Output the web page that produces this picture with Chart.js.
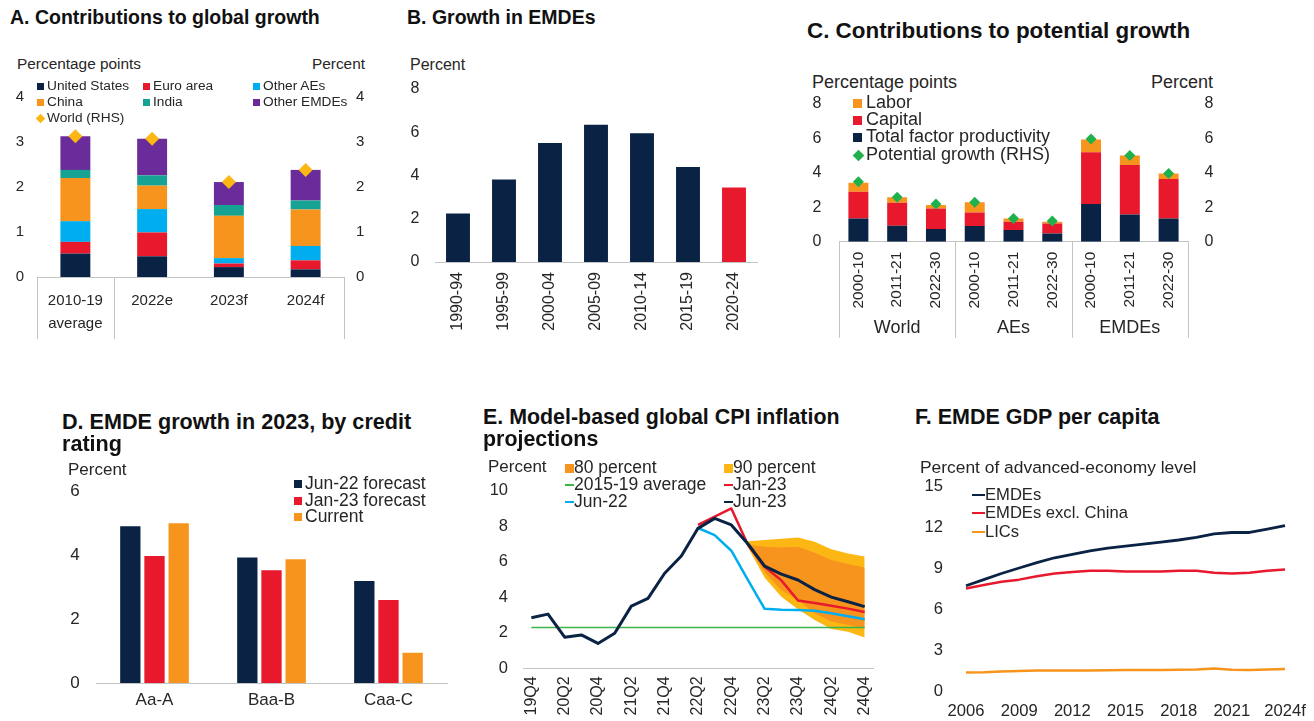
<!DOCTYPE html>
<html>
<head>
<meta charset="utf-8">
<script src="https://cdn.jsdelivr.net/npm/chart.js@4.4.1/dist/chart.umd.min.js"></script>
<style>
body { margin: 0; background: #fff; width: 1314px; height: 721px; position: relative; overflow: hidden;
       font-family: "Liberation Sans", Arial, sans-serif; color: #262626; }
canvas { position: absolute; }
.t { position: absolute; white-space: nowrap; line-height: 1.2; }
</style>
</head>
<body>
<canvas id="chartA" width="380" height="255" style="left:0;top:85px"></canvas>
<canvas id="chartB" width="380" height="255" style="left:395px;top:80px"></canvas>
<canvas id="chartC" width="440" height="250" style="left:800px;top:95px"></canvas>
<canvas id="chartD" width="400" height="241" style="left:55px;top:480px"></canvas>
<canvas id="chartE" width="420" height="241" style="left:470px;top:480px"></canvas>
<canvas id="chartF" width="414" height="246" style="left:900px;top:475px"></canvas>
<script>
// ---- A. Contributions to global growth (percentage points) ----
const aCats = [['2010-19', 'average'], '2022e', '2023f', '2024f'];
const aUS = [0.52, 0.46, 0.22, 0.17];
const aEuro = [0.26, 0.53, 0.08, 0.20];
const aOtherAEs = [0.46, 0.52, 0.12, 0.32];
const aChina = [0.96, 0.52, 0.94, 0.81];
const aIndia = [0.18, 0.23, 0.24, 0.20];
const aOtherEMDEs = [0.75, 0.81, 0.51, 0.68];
const aWorld = [3.13, 3.07, 2.11, 2.38];

// ---- B. Growth in EMDEs ----
const bPeriods = ['1990-94', '1995-99', '2000-04', '2005-09', '2010-14', '2015-19', '2020-24'];
const bGrowth = [2.24, 3.82, 5.50, 6.35, 5.95, 4.39, 3.45];

// ---- C. Contributions to potential growth ----
const cGroups = ['World', 'AEs', 'EMDEs'];
const cPeriods = ['2000-10', '2011-21', '2022-30'];
const cTFP = [1.35, 0.93, 0.73, 0.91, 0.68, 0.48, 2.18, 1.58, 1.35];
const cCapital = [1.55, 1.33, 1.20, 0.79, 0.48, 0.58, 3.00, 2.86, 2.28];
const cLabor = [0.52, 0.31, 0.20, 0.58, 0.19, 0.10, 0.75, 0.55, 0.33];
const cPotential = [3.48, 2.57, 2.18, 2.28, 1.35, 1.20, 5.95, 4.99, 3.96];

// ---- D. EMDE growth in 2023, by credit rating ----
const dRatings = ['Aa-A', 'Baa-B', 'Caa-C'];
const dJun22 = [4.92, 3.94, 3.20];
const dJan23 = [3.98, 3.54, 2.60];
const dCurrent = [5.01, 3.88, 0.95];

// ---- E. Model-based global CPI inflation projections ----
const eQuarters = ['19Q4', '20Q1', '20Q2', '20Q3', '20Q4', '21Q1', '21Q2', '21Q3', '21Q4', '22Q1', '22Q2',
                   '22Q3', '22Q4', '23Q1', '23Q2', '23Q3', '23Q4', '24Q1', '24Q2', '24Q3', '24Q4'];
const eJun23 = [2.85, 3.05, 1.75, 1.88, 1.40, 1.97, 3.50, 3.94, 5.35, 6.32, 7.88, 8.44, 8.07, 7.00, 5.75, 5.30, 4.97, 4.43, 4.01, 3.75, 3.47];
const eJan23 = [null, null, null, null, null, null, null, null, null, null, 8.07, 8.54, 9.00, 6.94, 5.72, 4.95, 3.82, 3.68, 3.52, 3.36, 3.17];
const eJun22 = [null, null, null, null, null, null, null, null, null, null, 7.90, 7.50, 6.62, 4.97, 3.35, 3.29, 3.28, 3.24, 3.10, 2.93, 2.76];
const eAvg = [2.3, 2.3, 2.3, 2.3, 2.3, 2.3, 2.3, 2.3, 2.3, 2.3, 2.3, 2.3, 2.3, 2.3, 2.3, 2.3, 2.3, 2.3, 2.3, 2.3, 2.3];
const e90Low = [null, null, null, null, null, null, null, null, null, null, null, null, null, 6.80, 5.10, 4.03, 3.32, 2.72, 2.21, 2.06, 1.74];
const e80Low = [null, null, null, null, null, null, null, null, null, null, null, null, null, 6.88, 5.40, 4.40, 3.85, 3.10, 2.63, 2.44, 2.25];
const e80High = [null, null, null, null, null, null, null, null, null, null, null, null, null, 6.95, 6.85, 6.80, 6.85, 6.50, 6.10, 5.87, 5.67];
const e90High = [null, null, null, null, null, null, null, null, null, null, null, null, null, 7.15, 7.22, 7.30, 7.37, 7.13, 6.70, 6.47, 6.29];

// ---- F. EMDE GDP per capita (percent of advanced-economy level) ----
const fYears = ['2006', '2007', '2008', '2009', '2010', '2011', '2012', '2013', '2014', '2015',
                '2016', '2017', '2018', '2019', '2020', '2021', '2022', '2023', '2024f'];
const fEMDEs = [7.75, 8.2, 8.65, 9.05, 9.45, 9.8, 10.05, 10.3, 10.5, 10.65, 10.8, 10.95, 11.1, 11.3, 11.55, 11.65, 11.65, 11.9, 12.15];
const fExChina = [7.55, 7.8, 8.05, 8.2, 8.45, 8.65, 8.75, 8.85, 8.85, 8.8, 8.8, 8.8, 8.85, 8.85, 8.7, 8.65, 8.7, 8.85, 8.95];
const fLICs = [1.4, 1.42, 1.47, 1.52, 1.55, 1.56, 1.55, 1.56, 1.57, 1.58, 1.58, 1.58, 1.6, 1.62, 1.7, 1.6, 1.58, 1.63, 1.66];

const NAVY = '#0a2244', RED = '#e8192c', ORANGE = '#f7941d', CYAN = '#00aeef', TEAL = '#17a394',
      PURPLE = '#6b2c9b', GOLD = '#fdb714', GREEN = '#1fb14c', LINEGREEN = '#3bb54a', AXIS = '#c4c4c4';

Chart.defaults.font.family = '"Liberation Sans", Arial, sans-serif';
Chart.defaults.color = '#262626';
Chart.defaults.animation = false;
Chart.defaults.responsive = false;
Chart.defaults.devicePixelRatio = 1;
Chart.defaults.plugins.legend.display = false;
Chart.defaults.plugins.tooltip.enabled = false;

// vertical separators (and optional group names) under a category x axis
const separators = {
  id: 'separators',
  afterDraw(chart, args, opts) {
    if (!opts.at) return;
    const x = chart.scales.x, ctx = chart.ctx;
    const step = x.getPixelForValue(1) - x.getPixelForValue(0);
    const edge = i => x.getPixelForValue(0) + (i - 0.5) * step;
    ctx.save();
    ctx.strokeStyle = AXIS;
    ctx.lineWidth = 1;
    opts.at.forEach(i => {
      const px = Math.round(edge(i)) + 0.5;
      ctx.beginPath();
      ctx.moveTo(px, x.top);
      ctx.lineTo(px, x.top + opts.depth);
      ctx.stroke();
    });
    if (opts.groups) {
      ctx.fillStyle = '#262626';
      ctx.font = opts.groupFont;
      ctx.textAlign = 'center';
      ctx.textBaseline = 'middle';
      const n = opts.groupSize;
      opts.groups.forEach((g, k) => {
        ctx.fillText(g, (edge(k * n) + edge(k * n + n)) / 2, x.top + opts.groupY);
      });
    }
    ctx.restore();
  }
};

// fixed axis sizes so every plot area lands where the reference has it
function noPad(s) {
  s.paddingTop = 0; s.paddingBottom = 0; s.paddingLeft = 0; s.paddingRight = 0;
}
function yAxis(width, max, step, pad, size, pos) {
  return {
    position: pos || 'left', min: 0, max: max,
    grid: { display: false, drawTicks: false }, border: { display: false },
    ticks: { stepSize: step, padding: pad, font: { size: size } },
    afterFit: s => { s.width = width; noPad(s); }
  };
}
function xAxis(height, pad, size, extra) {
  return Object.assign({
    grid: { display: false, drawTicks: false },
    border: { display: true, color: AXIS, width: 1 },
    ticks: { padding: pad, font: { size: size }, autoSkip: false, maxRotation: 0 },
    afterFit: s => { s.height = height; noPad(s); }
  }, extra || {});
}
function rotated(ax) {
  ax.ticks.maxRotation = 90;
  ax.ticks.minRotation = 90;
  return ax;
}

// ---- chart A ----
const aSeries = [
  ['United States', aUS, NAVY], ['Euro area', aEuro, RED], ['Other AEs', aOtherAEs, CYAN],
  ['China', aChina, ORANGE], ['India', aIndia, TEAL], ['Other EMDEs', aOtherEMDEs, PURPLE]
];
const axA = xAxis(63, 12, 15, { stacked: true });
axA.ticks.font.lineHeight = 1.55;
new Chart(document.getElementById('chartA'), {
  type: 'bar',
  data: {
    labels: aCats,
    datasets: aSeries.map(s => ({ label: s[0], data: s[1], backgroundColor: s[2], order: 1,
                                  barPercentage: 0.39, categoryPercentage: 1 }))
      .concat([{ type: 'line', label: 'World (RHS)', data: aWorld, yAxisID: 'y2', showLine: false, order: 0,
                 pointStyle: 'rectRot', pointRadius: 7, pointBackgroundColor: GOLD, pointBorderWidth: 0 }])
  },
  options: {
    layout: { padding: { top: 12, right: 0, left: 0, bottom: 0 } },
    scales: {
      x: axA,
      y: Object.assign(yAxis(37, 4, 1, 13, 15), { stacked: true }),
      y2: yAxis(36, 4, 1, 12, 15, 'right')
    },
    plugins: { separators: { at: [0, 1, 4], depth: 62 } }
  },
  plugins: [separators]
});

// ---- chart B ----
new Chart(document.getElementById('chartB'), {
  type: 'bar',
  data: {
    labels: bPeriods,
    datasets: [{ data: bGrowth, backgroundColor: bGrowth.map((v, i) => i === bGrowth.length - 1 ? RED : NAVY),
                 barPercentage: 0.52, categoryPercentage: 1 }]
  },
  options: {
    layout: { padding: { top: 9, right: 18, left: 0, bottom: 0 } },
    scales: {
      x: rotated(xAxis(73, 10, 16)),
      y: yAxis(40, 8, 2, 15.5, 16)
    }
  }
});

// ---- chart C ----
const cLabels = cGroups.flatMap(() => cPeriods);
new Chart(document.getElementById('chartC'), {
  type: 'bar',
  data: {
    labels: cLabels,
    datasets: [
      { label: 'Total factor productivity', data: cTFP, backgroundColor: NAVY },
      { label: 'Capital', data: cCapital, backgroundColor: RED },
      { label: 'Labor', data: cLabor, backgroundColor: ORANGE }
    ].map(d => Object.assign(d, { order: 1, barPercentage: 0.515, categoryPercentage: 1 }))
      .concat([{ type: 'line', label: 'Potential growth (RHS)', data: cPotential, yAxisID: 'y2', showLine: false, order: 0,
                 pointStyle: 'rectRot', pointRadius: 5.5, pointBackgroundColor: GREEN, pointBorderWidth: 0 }])
  },
  options: {
    layout: { padding: { top: 8.7, right: 0, left: 0, bottom: 0 } },
    scales: {
      x: rotated(xAxis(103.3, 10, 15.5, { stacked: true })),
      y: Object.assign(yAxis(39, 8, 2, 17.5, 16), { stacked: true }),
      y2: yAxis(52, 8, 2, 16.5, 16, 'right')
    },
    plugins: { separators: { at: [0, 3, 6, 9], depth: 96, groups: cGroups, groupSize: 3, groupY: 86,
                             groupFont: '18px "Liberation Sans", Arial, sans-serif' } }
  },
  plugins: [separators]
});

// ---- chart D ----
const dSeries = [['Jun-22 forecast', dJun22, NAVY], ['Jan-23 forecast', dJan23, RED], ['Current', dCurrent, ORANGE]];
new Chart(document.getElementById('chartD'), {
  type: 'bar',
  data: {
    labels: dRatings,
    datasets: dSeries.map(s => ({ label: s[0], data: s[1], backgroundColor: s[2],
                                  barPercentage: 0.84, categoryPercentage: 0.62 }))
  },
  options: {
    layout: { padding: { top: 11.7, right: 8, left: 0, bottom: 0 } },
    scales: {
      x: xAxis(38, 7.5, 17),
      y: yAxis(41, 6, 2, 16.3, 17)
    }
  }
});

// ---- chart E ----
const lineDs = (label, data, color, width, order) => ({
  label: label, data: data, borderColor: color, borderWidth: width, pointRadius: 0, tension: 0,
  fill: false, order: order, borderJoinStyle: 'round'
});
const bandDs = (data, color, fill, order) => ({
  data: data, borderWidth: 0, pointRadius: 0, tension: 0, backgroundColor: color, fill: fill, order: order
});
const axE = rotated(xAxis(52.7, 8, 16, { offset: true }));
axE.ticks.callback = (v, i) => (i % 2 === 0 ? eQuarters[i] : '');
new Chart(document.getElementById('chartE'), {
  type: 'line',
  data: {
    labels: eQuarters,
    datasets: [
      bandDs(e90Low, GOLD, false, 21),
      bandDs(e90High, GOLD, 0, 20),
      bandDs(e80Low, ORANGE, false, 11),
      bandDs(e80High, ORANGE, 2, 10),
      lineDs('2015-19 average', eAvg, LINEGREEN, 1.5, 4),
      lineDs('Jun-22', eJun22, CYAN, 2.5, 3),
      lineDs('Jan-23', eJan23, RED, 2.5, 2),
      lineDs('Jun-23', eJun23, NAVY, 3, 1)
    ]
  },
  options: {
    layout: { padding: { top: 10.7, right: 17, left: 0, bottom: 0 } },
    scales: {
      x: axE,
      y: yAxis(53, 10, 2, 15, 16.5)
    }
  }
});

// ---- chart F ----
const axF = xAxis(29.3, 10, 16.6, { offset: false });
axF.border.display = false;
axF.ticks.callback = (v, i) => (i % 3 === 0 ? fYears[i] : '');
new Chart(document.getElementById('chartF'), {
  type: 'line',
  data: {
    labels: fYears,
    datasets: [
      lineDs('EMDEs', fEMDEs, NAVY, 2.8, 1),
      lineDs('EMDEs excl. China', fExChina, RED, 2.5, 2),
      lineDs('LICs', fLICs, ORANGE, 2.5, 3)
    ]
  },
  options: {
    layout: { padding: { top: 11.7, right: 29, left: 0, bottom: 0 } },
    scales: {
      x: axF,
      y: yAxis(66, 15, 3, 23, 16.6)
    }
  }
});

// ---- text: titles, unit labels, legends ----
function label(txt, x, yc, size, o) {
  o = o || {};
  const d = document.createElement('div');
  d.className = 't';
  d.textContent = txt;
  d.style.fontSize = size + 'px';
  d.style.top = (yc - size * 0.62) + 'px';
  if (o.right) d.style.right = (1314 - x) + 'px'; else d.style.left = x + 'px';
  if (o.bold) { d.style.fontWeight = 'bold'; d.style.color = '#111'; }
  document.body.appendChild(d);
}
function swatch(kind, color, x, yc, s) {
  const d = document.createElement('div');
  d.style.position = 'absolute';
  d.style.background = color;
  d.style.left = x + 'px';
  if (kind === 'line') {
    d.style.top = (yc - 1.25) + 'px'; d.style.width = s + 'px'; d.style.height = '2.5px';
  } else {
    d.style.top = (yc - s / 2) + 'px'; d.style.width = s + 'px'; d.style.height = s + 'px';
    if (kind === 'diamond') d.style.transform = 'rotate(45deg) scale(0.75)';
  }
  document.body.appendChild(d);
}

// A
label('A. Contributions to global growth', 10, 18, 19.5, { bold: true });
label('Percentage points', 17, 65, 15.4);
label('Percent', 365, 65, 15.4, { right: true });
const aCols = [37, 143, 253], aRows = [86, 102, 118];
aSeries.forEach((s, i) => {
  const c = aCols[i % 3], r = aRows[Math.floor(i / 3)];
  swatch('square', s[2], c, r, 7);
  label(s[0], c + 10, r, 13.7);
});
swatch('diamond', GOLD, 36, aRows[2], 9);
label('World (RHS)', 47, aRows[2], 13.7);

// B
label('B. Growth in EMDEs', 407, 18, 19.5, { bold: true });
label('Percent', 410, 65, 16);

// C
label('C. Contributions to potential growth', 807, 32, 22.4, { bold: true });
label('Percentage points', 812, 83, 18);
label('Percent', 1213, 83, 18, { right: true });
[['Labor', ORANGE, 'square'], ['Capital', RED, 'square'], ['Total factor productivity', NAVY, 'square'],
 ['Potential growth (RHS)', GREEN, 'diamond']].forEach((it, i) => {
  const r = [103, 120, 137, 155][i];
  swatch(it[2], it[1], 853, r, it[2] === 'diamond' ? 11 : 9);
  label(it[0], 866, r, 18);
});

// D
label('D. EMDE growth in 2023, by credit', 62, 422, 21.6, { bold: true });
label('rating', 62, 444, 21.6, { bold: true });
label('Percent', 68, 471, 17);
dSeries.forEach((s, i) => {
  const r = [484, 501, 517][i];
  swatch('square', s[2], 294, r, 8);
  label(s[0], 305, r, 17.5);
});

// E
label('E. Model-based global CPI inflation', 483, 418, 21.4, { bold: true });
label('projections', 483, 440, 21.4, { bold: true });
label('Percent', 488, 468, 17);
[['80 percent', ORANGE, 'square'], ['90 percent', GOLD, 'square'],
 ['2015-19 average', LINEGREEN, 'line'], ['Jan-23', RED, 'line'],
 ['Jun-22', CYAN, 'line'], ['Jun-23', NAVY, 'line']].forEach((it, i) => {
  const c = i % 2 === 0 ? 565 : 724, r = [468, 485, 502][Math.floor(i / 2)];
  swatch(it[2], it[1], c, r, 9);
  label(it[0], c + 9, r, 17.5);
});

// F
label('F. EMDE GDP per capita', 915, 418, 21.5, { bold: true });
label('Percent of advanced-economy level', 920, 468, 17.4);
[['EMDEs', NAVY], ['EMDEs excl. China', RED], ['LICs', ORANGE]].forEach((it, i) => {
  const r = [495, 513, 532][i];
  swatch('line', it[1], 972, r, 13);
  label(it[0], 985, r, 16.6);
});
</script>
</body>
</html>
